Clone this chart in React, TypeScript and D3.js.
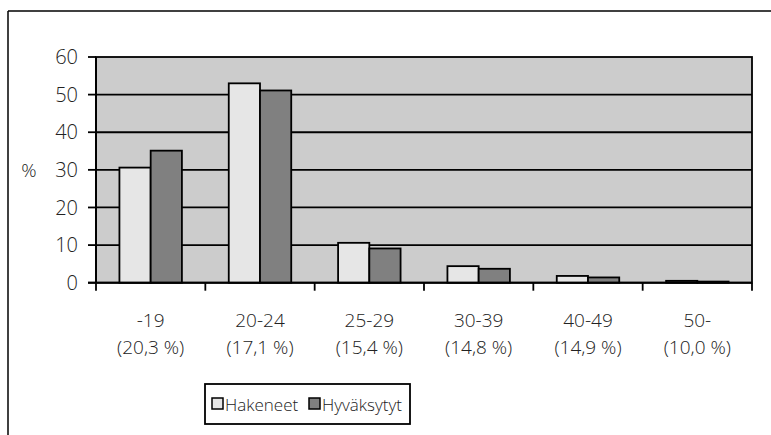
import React from "react";
import * as d3 from "d3";

const categories = ["-19", "20-24", "25-29", "30-39", "40-49", "50-"];
const shares = ["(20,3 %)", "(17,1 %)", "(15,4 %)", "(14,8 %)", "(14,9 %)", "(10,0 %)"];
const hakeneet = [30.6, 53.0, 10.6, 4.4, 1.8, 0.5];
const hyvaksytyt = [35.1, 51.1, 9.1, 3.7, 1.4, 0.3];
const seriesNames = ["Hakeneet", "Hyväksytyt"];
const seriesColors = ["#e6e6e6", "#808080"];
const yTicks = [0, 10, 20, 30, 40, 50, 60];

export default function App() {
  const W = 771, H = 435;
  const left = 96, right = 752, top = 57, bottom = 282.7;
  const x = d3.scaleBand<string>().domain(categories).range([left, right]).paddingInner(0).paddingOuter(0);
  const y = d3.scaleLinear().domain([0, 60]).range([bottom, top]);
  const bw = x.bandwidth();
  const barW = bw / 3.5;
  const series = [hakeneet, hyvaksytyt];
  const font = "'Open Sans', sans-serif";
  const txt = "#222";
  const fw = 300;
  return (
    <svg width={W} height={H} style={{ position: "absolute", left: 0, top: 0 }}>
      <rect x={0} y={0} width={W} height={H} fill="#fff" />
      <line x1={8} y1={11} x2={W} y2={11} stroke="#000" strokeWidth={1.5} />
      <line x1={8} y1={11} x2={8} y2={H} stroke="#000" strokeWidth={1.5} />
      <rect x={left} y={top} width={right - left} height={bottom - top} fill="#cccccc" />
      {yTicks.filter(t => t > 0 && t < 60).map(t => (
        <line key={t} x1={left} x2={right} y1={y(t)} y2={y(t)} stroke="#000" strokeWidth={1.8} />
      ))}
      <rect x={left} y={top} width={right - left} height={bottom - top} fill="none" stroke="#000" strokeWidth={1.8} />
      {series.map((vals, si) =>
        vals.map((v, i) => {
          const bx = (x(categories[i]) as number) + bw / 2 - barW + si * barW;
          return (
            <rect key={si + "-" + i} x={bx} y={y(v)} width={barW} height={bottom - y(v)}
              fill={seriesColors[si]} stroke="#000" strokeWidth={1.8} />
          );
        })
      )}
      {/* y axis */}
      <line x1={left} x2={left} y1={top} y2={bottom} stroke="#000" strokeWidth={2} />
      {yTicks.map(t => (
        <g key={t}>
          <line x1={left - 8} x2={left} y1={y(t)} y2={y(t)} stroke="#000" strokeWidth={1.8} />
          <text x={78} y={y(t)} dy="0.36em" textAnchor="end" fontFamily={font} fontWeight={fw} fontSize={20} fill={txt}>{t}</text>
        </g>
      ))}
      <text x={29} y={y(30)} dy="0.36em" textAnchor="middle" fontFamily={font} fontWeight={fw} fontSize={19} fill={txt}>%</text>
      {/* x axis */}
      <line x1={left - 8} x2={right} y1={bottom} y2={bottom} stroke="#000" strokeWidth={2} />
      {[...categories.map(c => x(c) as number), right].map((px, i) => (
        <line key={i} x1={px} x2={px} y1={bottom} y2={bottom + 8} stroke="#000" strokeWidth={1.8} />
      ))}
      {categories.map((c, i) => (
        <g key={c}>
          <text x={(x(c) as number) + bw / 2} y={327} textAnchor="middle" fontFamily={font} fontWeight={fw} fontSize={19} fill={txt}>{c}</text>
          <text x={(x(c) as number) + bw / 2} y={354} textAnchor="middle" fontFamily={font} fontWeight={fw} fontSize={19} fill={txt}>{shares[i]}</text>
        </g>
      ))}
      {/* legend */}
      <rect x={205} y={384} width={205} height={40} fill="#fff" stroke="#000" strokeWidth={1.8} />
      <rect x={212} y={398} width={11} height={11} fill={seriesColors[0]} stroke="#000" strokeWidth={1.5} />
      <text x={225} y={411} fontFamily={font} fontWeight={fw} fontSize={17} fill={txt}>{seriesNames[0]}</text>
      <rect x={309} y={398} width={11} height={11} fill={seriesColors[1]} stroke="#000" strokeWidth={1.5} />
      <text x={322} y={411} fontFamily={font} fontWeight={fw} fontSize={17} fill={txt}>{seriesNames[1]}</text>
    </svg>
  );
}
